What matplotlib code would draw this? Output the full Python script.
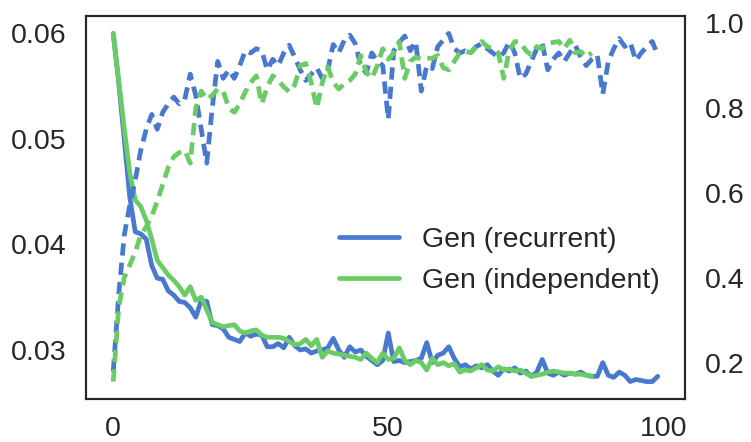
"""
Loss (solid, left axis) and accuracy (dashed, right axis) for the two generators.
"""

import numpy as np
import matplotlib
matplotlib.use("Agg")
import matplotlib.pyplot as plt
import seaborn as sns

sns.set_theme(style="white", palette="muted")
plt.rcParams["font.family"] = ["Liberation Sans", "DejaVu Sans"]

loss_rec = [0.0600, 0.0553, 0.0500, 0.0445, 0.0412, 0.0410, 0.0405, 0.0380, 0.0368, 0.0367,
            0.0356, 0.0352, 0.0346, 0.0345, 0.0340, 0.0331, 0.0347, 0.0346, 0.0324, 0.0323,
            0.0320, 0.0312, 0.0310, 0.0308, 0.0316, 0.0313, 0.0315, 0.0314, 0.0303, 0.0303,
            0.0306, 0.0302, 0.0312, 0.0304, 0.0300, 0.0301, 0.0297, 0.0299, 0.0300, 0.0302,
            0.0311, 0.0300, 0.0293, 0.0303, 0.0298, 0.0300, 0.0294, 0.0290, 0.0286, 0.0290,
            0.0316, 0.0289, 0.0290, 0.0288, 0.0289, 0.0290, 0.0292, 0.0307, 0.0288, 0.0295,
            0.0297, 0.0303, 0.0292, 0.0284, 0.0286, 0.0282, 0.0285, 0.0283, 0.0286, 0.0280,
            0.0276, 0.0282, 0.0280, 0.0283, 0.0278, 0.0280, 0.0275, 0.0279, 0.0291, 0.0278,
            0.0276, 0.0279, 0.0276, 0.0278, 0.0277, 0.0279, 0.0276, 0.0275, 0.0275, 0.0288,
            0.0276, 0.0274, 0.0279, 0.0276, 0.0270, 0.0272, 0.0271, 0.0270, 0.0270, 0.0275]

loss_ind = [0.0600, 0.0555, 0.0510, 0.0468, 0.0442, 0.0436, 0.0423, 0.0405, 0.0385, 0.0378,
            0.0371, 0.0366, 0.0360, 0.0352, 0.0360, 0.0347, 0.0350, 0.0338, 0.0326, 0.0324,
            0.0322, 0.0323, 0.0324, 0.0318, 0.0316, 0.0318, 0.0319, 0.0314, 0.0312, 0.0312,
            0.0312, 0.0311, 0.0308, 0.0305, 0.0306, 0.0310, 0.0304, 0.0310, 0.0293, 0.0299,
            0.0297, 0.0296, 0.0295, 0.0294, 0.0293, 0.0291, 0.0297, 0.0292, 0.0288, 0.0297,
            0.0291, 0.0292, 0.0302, 0.0290, 0.0286, 0.0290, 0.0288, 0.0281, 0.0292, 0.0286,
            0.0288, 0.0285, 0.0287, 0.0279, 0.0281, 0.0280, 0.0283, 0.0286, 0.0281, 0.0280,
            0.0284, 0.0281, 0.0282, 0.0280, 0.0281, 0.0278, 0.0275, 0.0276, 0.0277, 0.0279,
            0.0280, 0.0279, 0.0278, 0.0278, 0.0277, 0.0277, 0.0276, 0.0275]

acc_rec = [0.179, 0.36, 0.50, 0.57, 0.63, 0.70, 0.75, 0.785, 0.75, 0.79,
           0.81, 0.826, 0.81, 0.82, 0.88, 0.83, 0.75, 0.67, 0.80, 0.91,
           0.87, 0.89, 0.87, 0.90, 0.935, 0.93, 0.94, 0.935, 0.89, 0.915,
           0.90, 0.93, 0.948, 0.92, 0.89, 0.865, 0.88, 0.895, 0.87, 0.89,
           0.95, 0.93, 0.96, 0.972, 0.952, 0.90, 0.882, 0.93, 0.912, 0.90,
           0.774, 0.935, 0.955, 0.97, 0.935, 0.957, 0.84, 0.90, 0.893, 0.945,
           0.96, 0.976, 0.94, 0.93, 0.935, 0.93, 0.945, 0.952, 0.94, 0.93,
           0.92, 0.93, 0.957, 0.93, 0.87, 0.88, 0.91, 0.94, 0.952, 0.89,
           0.915, 0.93, 0.91, 0.93, 0.948, 0.92, 0.90, 0.915, 0.925, 0.833,
           0.91, 0.94, 0.964, 0.945, 0.955, 0.912, 0.93, 0.945, 0.957, 0.924]

acc_ind = [0.155, 0.33, 0.40, 0.43, 0.46, 0.50, 0.52, 0.545, 0.58, 0.62,
           0.66, 0.685, 0.695, 0.70, 0.67, 0.80, 0.84, 0.82, 0.83, 0.845,
           0.84, 0.80, 0.79, 0.81, 0.838, 0.86, 0.876, 0.81, 0.85, 0.876,
           0.865, 0.85, 0.838, 0.855, 0.90, 0.905, 0.86, 0.80, 0.86, 0.897,
           0.86, 0.845, 0.857, 0.865, 0.88, 0.924, 0.885, 0.87, 0.90, 0.94,
           0.915, 0.93, 0.957, 0.87, 0.91, 0.92, 0.915, 0.918, 0.917, 0.924,
           0.895, 0.89, 0.91, 0.93, 0.935, 0.93, 0.945, 0.957, 0.945, 0.94,
           0.93, 0.87, 0.936, 0.957, 0.955, 0.936, 0.925, 0.945, 0.94, 0.952,
           0.955, 0.957, 0.94, 0.96, 0.93, 0.933, 0.92, 0.93]

labels = ["Gen (recurrent)", "Gen (independent)"]
blue, green = sns.color_palette("muted")[0], sns.color_palette("muted")[2]

fig = plt.figure(figsize=(7.51, 4.42), dpi=100)
ax = fig.add_axes([86 / 751, 43 / 442, 599 / 751, 383 / 442])
ax2 = ax.twinx()

lw = 3.4
ax.plot(np.arange(len(loss_rec)), loss_rec, color=blue, lw=lw, label=labels[0])
ax.plot(np.arange(len(loss_ind)), loss_ind, color=green, lw=lw, label=labels[1])
ax2.plot(np.arange(len(acc_rec)), acc_rec, color=blue, lw=lw, ls=(0, (2.6, 1.5)))
ax2.plot(np.arange(len(acc_ind)), acc_ind, color=green, lw=lw, ls=(0, (2.6, 1.5)))

ax.set_xticks([0, 50, 100])
ax.set_yticks([0.03, 0.04, 0.05, 0.06])
ax2.set_yticks([0.2, 0.4, 0.6, 0.8, 1.0])

for a in (ax, ax2):
    a.tick_params(labelsize=20.5, length=0, pad=14, colors="0.15")
    for s in a.spines.values():
        s.set_color("0.15")
        s.set_linewidth(1.5)
ax.tick_params(axis="x", pad=12)

ax.legend(loc="center right", bbox_to_anchor=(1.0, 0.362), frameon=False,
          fontsize=20.5, handlelength=2.1, handletextpad=0.8, labelspacing=0.55)

fig.savefig("out.png", dpi=100)
